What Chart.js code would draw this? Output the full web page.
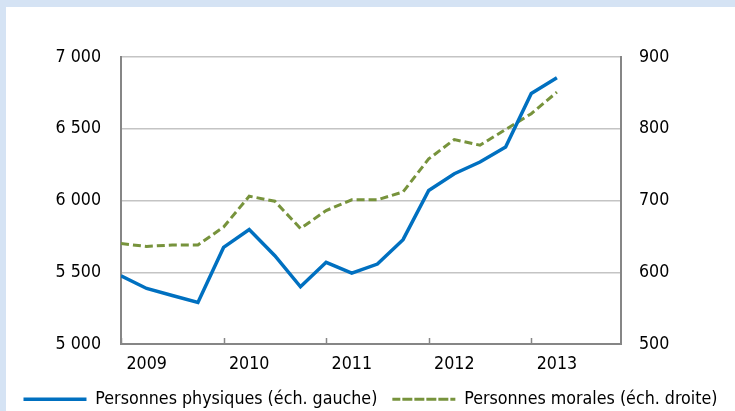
<!DOCTYPE html>
<html>
<head>
<meta charset="utf-8">
<script src="https://cdn.jsdelivr.net/npm/chart.js@4/dist/chart.umd.min.js"></script>
<style>
  html, body { margin: 0; padding: 0; background: #fff; overflow: hidden; width: 735px; height: 411px; }
  #frame { position: absolute; left: 0; top: 0; width: 729px; height: 404px;
           border-top: 7px solid #d5e3f4; border-left: 6px solid #d5e3f4; overflow: hidden; background: #fff; }
  canvas { position: absolute; left: 0; top: 0; }
</style>
</head>
<body>
<div id="frame"><canvas id="c" width="729" height="411"></canvas></div>
<script>
// Quarterly categories (T4 2008 .. T1 2013)
const categories = ['T4 2008','T1 2009','T2 2009','T3 2009','T4 2009','T1 2010','T2 2010','T3 2010','T4 2010',
                    'T1 2011','T2 2011','T3 2011','T4 2011','T1 2012','T2 2012','T3 2012','T4 2012','T1 2013'];
// Personnes physiques (left scale)
const physiques = [5475, 5387, 5338, 5289, 5673, 5797, 5615, 5399, 5569, 5494, 5557, 5727, 6070, 6187, 6268, 6373, 6746, 6855];
// Personnes morales (right scale)
const morales = [640, 636, 638, 638, 663, 706, 699, 661, 686, 701, 701, 712, 758, 785, 777, 799, 821, 851];
// Year labels on the x axis
const yearLabels = ['2009', '2010', '2011', '2012', '2013'];
const leftTicks = [5000, 5500, 6000, 6500, 7000];
const rightTicks = [500, 600, 700, 800, 900];
const seriesNames = ['Personnes physiques (éch. gauche)', 'Personnes morales (éch. droite)'];

const labelPos = yearLabels.map(y => categories.indexOf('T1 ' + y));
const tickMarkPos = categories.map((c, i) => c.startsWith('T4') ? i : -1).filter(i => i >= 0);
const fmt = v => String(v).replace(/\B(?=(\d{3})+(?!\d))/g, ' ');
const FONT = { family: "'DejaVu Sans Condensed', 'DejaVu Sans', sans-serif", size: 17.7 };

const innerTicks = {
  id: 'innerTicks',
  afterDraw(chart) {
    const xs = chart.scales.x, ctx = chart.ctx, b = chart.chartArea.bottom;
    ctx.save();
    ctx.strokeStyle = '#868686';
    ctx.lineWidth = 1.5;
    tickMarkPos.forEach(v => {
      const x = Math.round(xs.getPixelForValue(v)) + 0.5;
      ctx.beginPath(); ctx.moveTo(x, b); ctx.lineTo(x, b - 6); ctx.stroke();
    });
    ctx.restore();
  }
};

new Chart(document.getElementById('c'), {
  type: 'line',
  data: {
    datasets: [
      { label: seriesNames[0], data: physiques.map((v, i) => ({ x: i, y: v })), yAxisID: 'y',
        borderColor: '#0070c0', backgroundColor: '#0070c0', borderWidth: 3.5, pointRadius: 0, tension: 0 },
      { label: seriesNames[1], data: morales.map((v, i) => ({ x: i, y: v })), yAxisID: 'y1',
        borderColor: '#77933c', backgroundColor: '#77933c', borderWidth: 3, borderDash: [8, 4], pointRadius: 0, tension: 0 }
    ]
  },
  options: {
    responsive: false,
    animation: false,
    layout: { padding: { top: 50, left: 0, right: 0, bottom: 0 } },
    plugins: {
      tooltip: { enabled: false },
      legend: {
        position: 'bottom',
        labels: { font: FONT, color: '#000', boxWidth: 63, boxHeight: 0, padding: 15 }
      }
    },
    scales: {
      x: {
        type: 'linear', min: 0, max: 19.5,
        afterBuildTicks: s => { s.ticks = labelPos.map(v => ({ value: v })); },
        afterFit: s => { s.height = 31.3; },
        ticks: { font: FONT, color: '#000', autoSkip: false, maxRotation: 0, padding: 10,
                 callback: v => yearLabels[labelPos.indexOf(v)] || '' },
        grid: { display: false, drawTicks: false },
        border: { display: true, color: '#868686', width: 2 }
      },
      y: {
        position: 'left', min: leftTicks[0], max: leftTicks[leftTicks.length - 1],
        afterBuildTicks: s => { s.ticks = leftTicks.map(v => ({ value: v })); },
        afterFit: s => { s.width = 115; },
        ticks: { font: FONT, color: '#000', padding: 20, callback: v => fmt(v) },
        grid: { color: '#c4c4c4', lineWidth: 1.5, drawTicks: false },
        border: { color: '#868686', width: 2 }
      },
      y1: {
        position: 'right', min: rightTicks[0], max: rightTicks[rightTicks.length - 1],
        afterBuildTicks: s => { s.ticks = rightTicks.map(v => ({ value: v })); },
        afterFit: s => { s.width = 114; },
        ticks: { font: FONT, color: '#000', padding: 18, callback: v => fmt(v) },
        grid: { drawOnChartArea: false, drawTicks: false },
        border: { color: '#868686', width: 2 }
      }
    }
  },
  plugins: [innerTicks]
});
</script>
</body>
</html>
